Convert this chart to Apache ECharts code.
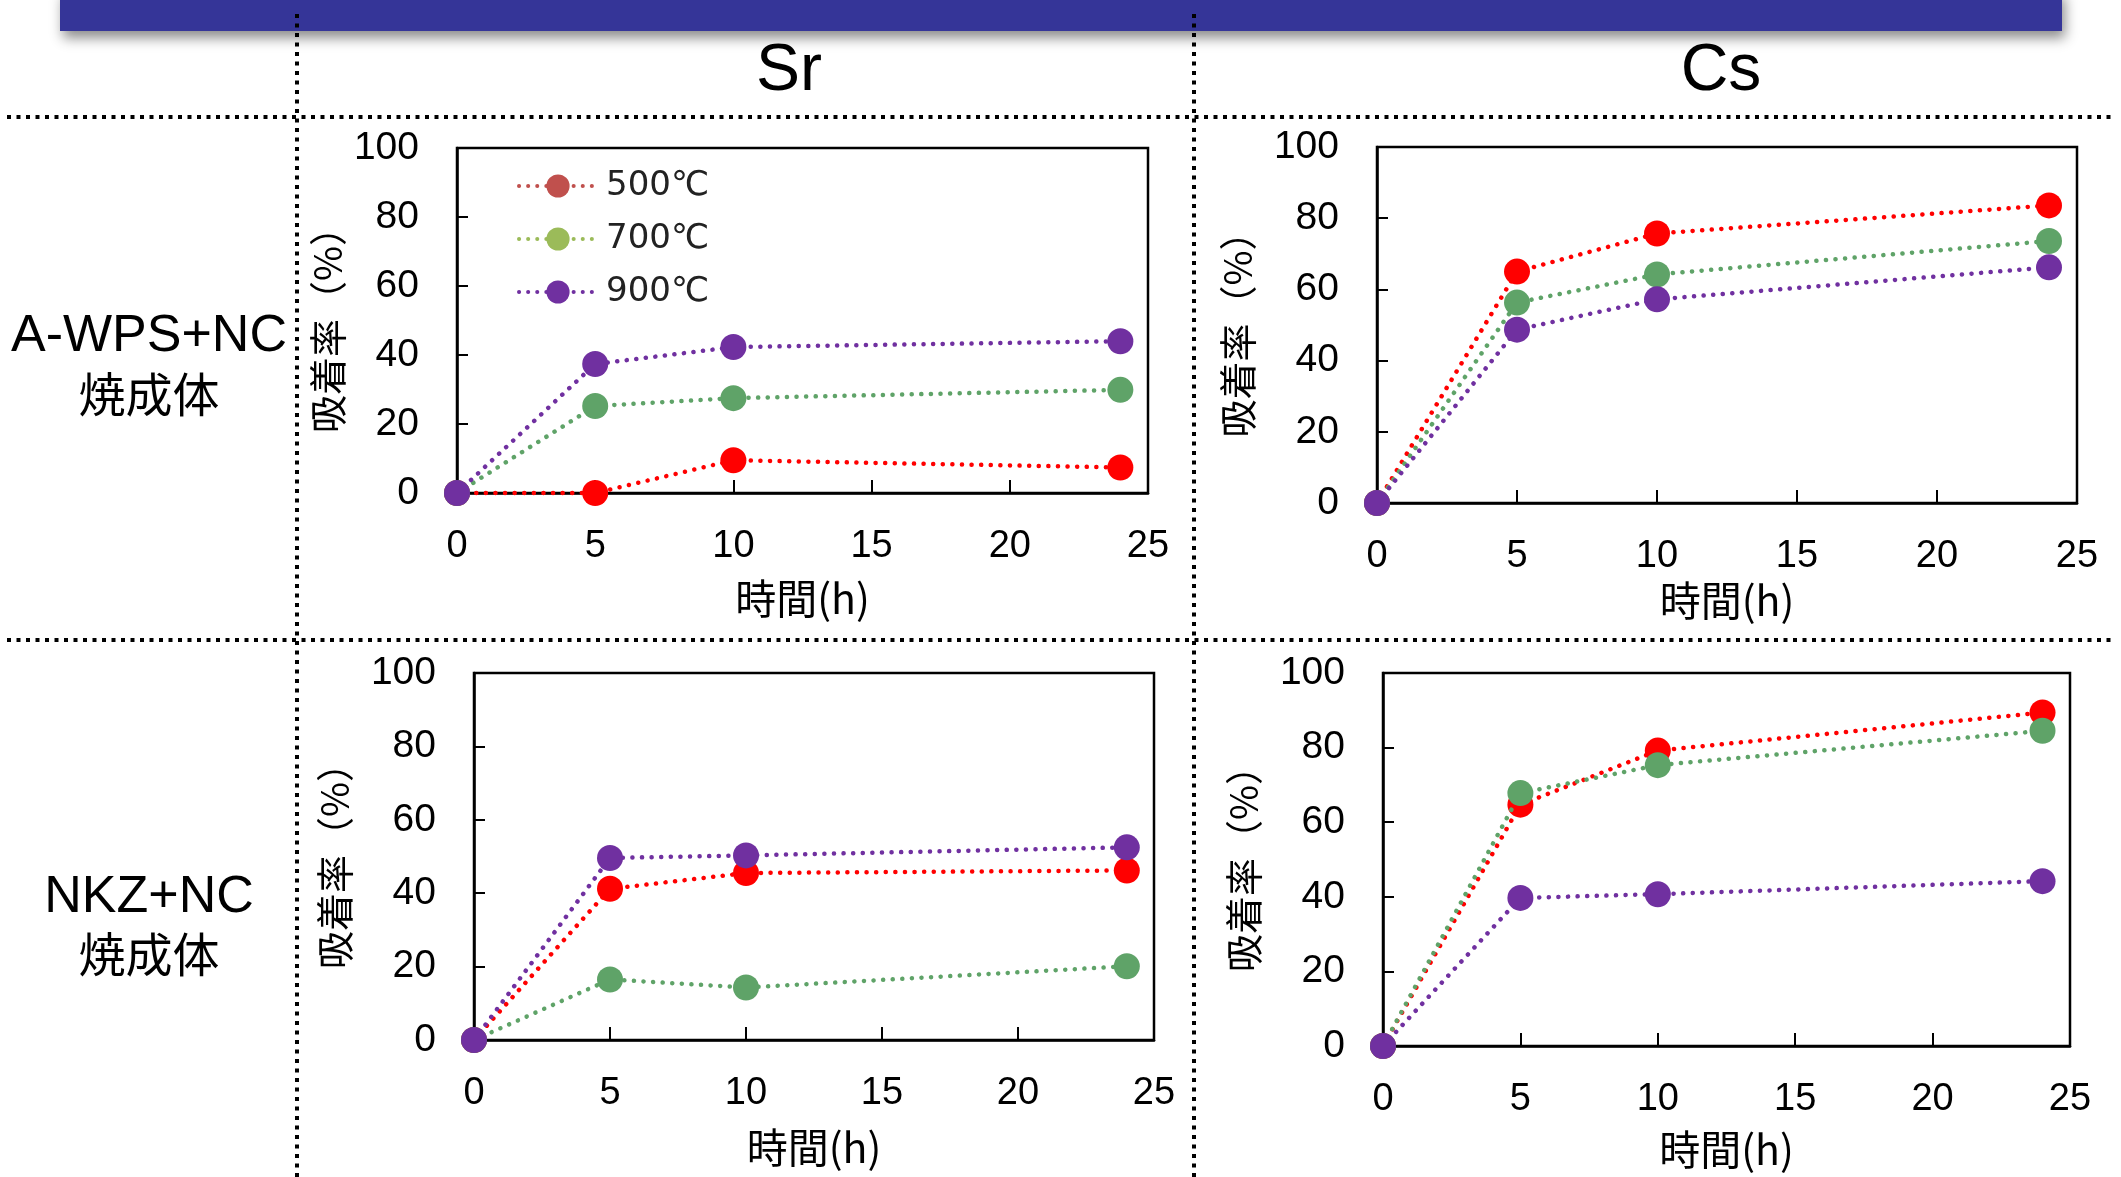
<!DOCTYPE html>
<html>
<head>
<meta charset="utf-8">
<script src="https://cdn.jsdelivr.net/npm/echarts@6/dist/echarts.min.js"></script>
<style>
html,body{margin:0;padding:0;background:#fff;}
#c{width:2121px;height:1177px;}
</style>
</head>
<body>
<div id="c"></div>
<script>
// ---- data ----
const hours = [0, 5, 10, 24];
const seriesNames = ['500℃', '700℃', '900℃'];
const xTicks = [0, 5, 10, 15, 20, 25];
const yTicks = [0, 20, 40, 60, 80, 100];

// Sr, A-WPS+NC 焼成体
const srA_500 = [0, 0, 9.5, 7.4];
const srA_700 = [0, 25.2, 27.5, 29.9];
const srA_900 = [0, 37.4, 42.3, 44.0];
// Cs, A-WPS+NC 焼成体
const csA_500 = [0, 65.0, 75.7, 83.6];
const csA_700 = [0, 56.3, 64.2, 73.6];
const csA_900 = [0, 48.7, 57.2, 66.2];
// Sr, NKZ+NC 焼成体
const srN_500 = [0, 41.2, 45.5, 46.2];
const srN_700 = [0, 16.5, 14.3, 20.1];
const srN_900 = [0, 49.6, 50.3, 52.5];
// Cs, NKZ+NC 焼成体
const csN_500 = [0, 64.7, 79.2, 89.4];
const csN_700 = [0, 67.8, 75.3, 84.5];
const csN_900 = [0, 39.7, 40.7, 44.2];

const colTitles = ['Sr', 'Cs'];
const rowTitles = [['A-WPS+NC', '焼成体'], ['NKZ+NC', '焼成体']];
const xName = '時間(h)';
const yName = '吸着率（%）';

// ---- styling ----
const seriesColors = ['#FF0000', '#5FA368', '#7030A0'];
const legendColors = ['#C0504D', '#9BBB59', '#7030A0'];
const numFont = '"Liberation Sans", Arial, sans-serif';
const cjkFont = '"Noto Sans CJK JP", "Liberation Sans", sans-serif';

const panels = [
  {grid: {left: 457, top: 148, width: 691, height: 345}, data: [srA_500, srA_700, srA_900], yGap: 110, xGap: 85},
  {grid: {left: 1377, top: 147, width: 700, height: 356}, data: [csA_500, csA_700, csA_900], yGap: 120, xGap: 77},
  {grid: {left: 474, top: 673, width: 680, height: 367}, data: [srN_500, srN_700, srN_900], yGap: 120, xGap: 87},
  {grid: {left: 1383, top: 673, width: 687, height: 373}, data: [csN_500, csN_700, csN_900], yGap: 120, xGap: 83}
];

const grids = [], xAxes = [], yAxes = [], series = [];
panels.forEach((p, gi) => {
  grids.push(Object.assign({show: true, borderColor: '#000', borderWidth: 2.5, backgroundColor: 'transparent'}, p.grid));
  xAxes.push({
    type: 'value', gridIndex: gi, min: xTicks[0], max: xTicks[xTicks.length - 1], interval: 5,
    axisLine: {onZero: false, lineStyle: {color: '#000', width: 2.5}},
    axisTick: {inside: true, length: 13, lineStyle: {color: '#000', width: 2}},
    axisLabel: {margin: 35, color: '#000', fontSize: 38, fontFamily: numFont},
    splitLine: {show: false},
    name: xName, nameLocation: 'middle', nameGap: p.xGap,
    nameTextStyle: {fontSize: 41, color: '#000', fontFamily: cjkFont}
  });
  yAxes.push({
    type: 'value', gridIndex: gi, min: yTicks[0], max: yTicks[yTicks.length - 1], interval: 20,
    axisLine: {lineStyle: {color: '#000', width: 2.5}},
    axisTick: {inside: true, length: 11, lineStyle: {color: '#000', width: 2}},
    axisLabel: {margin: 38, color: '#000', fontSize: 39, fontFamily: numFont, padding: [8, 0, 0, 0]},
    splitLine: {show: false},
    name: yName, nameLocation: 'middle', nameGap: p.yGap, nameRotate: 90,
    nameTextStyle: {fontSize: 38, color: '#000', fontFamily: cjkFont}
  });
  p.data.forEach((vals, si) => {
    series.push({
      type: 'line', name: seriesNames[si], xAxisIndex: gi, yAxisIndex: gi,
      data: hours.map((h, i) => [h, vals[i]]),
      symbol: 'circle', symbolSize: 26, clip: false,
      itemStyle: {color: seriesColors[si]},
      lineStyle: {color: seriesColors[si], width: 4.5, type: [0.1, 9.5], cap: 'round'},
      emphasis: {disabled: true},
      z: 3 + si
    });
  });
});

const dotted = {stroke: '#000', lineWidth: 4, lineDash: [4, 5.5]};
const graphic = [
  {type: 'rect', shape: {x: 60, y: -10, width: 2002, height: 41},
   style: {fill: '#353598', shadowBlur: 12, shadowOffsetY: 7, shadowOffsetX: 3, shadowColor: 'rgba(0,0,0,0.45)'}, z: 1},
  {type: 'line', shape: {x1: 297, y1: 14, x2: 297, y2: 1177}, style: dotted, z: 2},
  {type: 'line', shape: {x1: 1194, y1: 14, x2: 1194, y2: 1177}, style: dotted, z: 2},
  {type: 'line', shape: {x1: 7, y1: 117, x2: 2112, y2: 117}, style: dotted, z: 2},
  {type: 'line', shape: {x1: 7, y1: 640, x2: 2112, y2: 640}, style: dotted, z: 2},
  {type: 'text', x: 789, y: 72, style: {text: colTitles[0], fontSize: 66, fontFamily: numFont, fill: '#000', align: 'center', verticalAlign: 'middle'}},
  {type: 'text', x: 1721, y: 72, style: {text: colTitles[1], fontSize: 66, fontFamily: numFont, fill: '#000', align: 'center', verticalAlign: 'middle'}},
  {type: 'text', x: 149, y: 337, style: {text: rowTitles[0][0], fontSize: 52, fontFamily: numFont, fill: '#000', align: 'center', verticalAlign: 'middle'}},
  {type: 'text', x: 149, y: 394, style: {text: rowTitles[0][1], fontSize: 47, fontFamily: cjkFont, fill: '#000', align: 'center', verticalAlign: 'middle'}},
  {type: 'text', x: 149, y: 898, style: {text: rowTitles[1][0], fontSize: 52, fontFamily: numFont, fill: '#000', align: 'center', verticalAlign: 'middle'}},
  {type: 'text', x: 149, y: 954, style: {text: rowTitles[1][1], fontSize: 47, fontFamily: cjkFont, fill: '#000', align: 'center', verticalAlign: 'middle'}}
];

const chart = echarts.init(document.getElementById('c'), null, {renderer: 'canvas'});
chart.setOption({
  animation: false,
  backgroundColor: '#fff',
  grid: grids,
  xAxis: xAxes,
  yAxis: yAxes,
  series: series,
  graphic: graphic,
  legend: {
    orient: 'vertical', left: 512, top: 164,
    itemWidth: 78, itemHeight: 29, itemGap: 19,
    textStyle: {fontSize: 34, lineHeight: 29, color: '#222', fontFamily: '"DejaVu Sans", sans-serif', padding: [0, 0, 0, 4]},
    data: seriesNames.map((n, i) => ({
      name: n,
      itemStyle: {color: legendColors[i]},
      lineStyle: {color: legendColors[i], width: 4, type: [0.1, 9], cap: 'round'}
    }))
  }
});
</script>
</body>
</html>
